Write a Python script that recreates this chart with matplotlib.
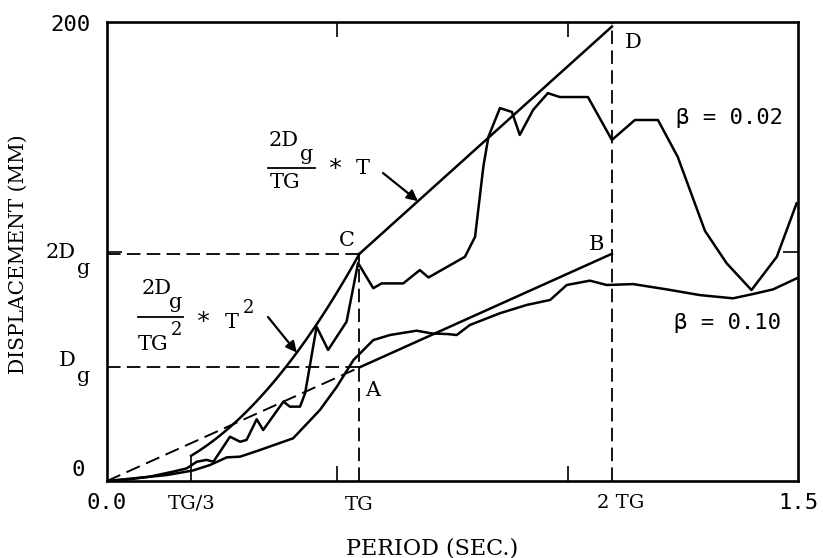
import matplotlib
matplotlib.use("Agg")
import matplotlib.pyplot as plt
import matplotlib.transforms as mtransforms
from matplotlib.lines import Line2D
import numpy as np

# ---- data ----
TG = 0.548
Dg = 49.5

T_b002 = [0.0, 0.05, 0.093, 0.144, 0.173, 0.195, 0.216, 0.231, 0.267, 0.289, 0.303,
          0.325, 0.339, 0.383, 0.397, 0.419, 0.430, 0.455, 0.480, 0.520, 0.545,
          0.578, 0.596, 0.643, 0.679, 0.698, 0.777, 0.799, 0.817, 0.828, 0.853,
          0.879, 0.896, 0.925, 0.957, 0.983, 1.044, 1.096, 1.146, 1.196, 1.239,
          1.298, 1.345, 1.399, 1.454, 1.497]
D_b002 = [0.0, 0.8, 1.9, 4.1, 5.5, 8.4, 9.2, 8.4, 19.3, 17.1, 17.9,
          26.9, 22.2, 34.6, 32.4, 32.4, 38.2, 67.2, 57.1, 69.4, 95.0,
          84.0, 86.1, 86.1, 91.9, 88.7, 97.7, 106.4, 137.0, 150.0, 162.5,
          160.8, 150.8, 161.7, 169.0, 167.3, 167.3, 148.6, 157.3, 157.3, 141.2,
          109.0, 94.9, 83.2, 97.7, 121.0]

T_b010 = [0.0, 0.13, 0.187, 0.224, 0.26, 0.289, 0.332, 0.404, 0.462, 0.499, 0.535,
          0.578, 0.614, 0.672, 0.705, 0.741, 0.759, 0.788, 0.853, 0.911, 0.962,
          0.998, 1.048, 1.085, 1.142, 1.215, 1.287, 1.359, 1.403, 1.446, 1.497]
D_b010 = [0.0, 2.6, 4.6, 7.0, 10.3, 10.6, 13.5, 18.6, 30.9, 41.1, 52.7,
          61.4, 63.6, 65.5, 64.3, 64.0, 63.6, 68.0, 73.1, 76.7, 78.9,
          85.4, 87.3, 85.4, 85.8, 83.5, 81.0, 79.6, 81.5, 83.5, 88.3]

# ---- figure ----
W, H = 823, 558
fig = plt.figure(figsize=(W / 100, H / 100), dpi=100)
L, R, TOP, BOT = 107, 798, 22, 481
ax = fig.add_axes([L / W, 1 - BOT / H, (R - L) / W, (BOT - TOP) / H])
ax.set_xlim(0, 1.5)
ax.set_ylim(0, 200)

MONO = "DejaVu Sans Mono"
SERIF = "DejaVu Serif"
lw = 1.8
dash = (0, (7.5, 3.5))

# model curves
Tp = np.linspace(TG / 3, TG, 60)
ax.plot(Tp, 2 * Dg / TG**2 * Tp**2, color="k", lw=lw)
ax.plot([TG / 3, TG / 3], [0, 2 * Dg / 9], color="k", lw=1.2)
ax.plot([TG, 2 * TG], [2 * Dg, 4 * Dg], color="k", lw=lw)          # C-D
ax.plot([TG, 2 * TG], [Dg, 2 * Dg], color="k", lw=lw)              # A-B
ax.plot([0, TG], [0, Dg], color="k", lw=1.4, linestyle=dash)         # O-A dashed

# reference dashed lines
ax.plot([0, TG], [2 * Dg, 2 * Dg], color="k", lw=1.3, linestyle=dash)
ax.plot([0, TG], [Dg, Dg], color="k", lw=1.3, linestyle=dash)
ax.plot([TG, TG], [0, 2 * Dg], color="k", lw=1.3, linestyle=dash)
ax.plot([2 * TG, 2 * TG], [0, 200], color="k", lw=1.3, linestyle=dash)

# response curves
ax.plot(T_b002, D_b002, color="k", lw=lw)
ax.plot(T_b010, D_b010, color="k", lw=lw)

# axes style
for s in ax.spines.values():
    s.set_linewidth(1.9)
ax.set_xticks([])
ax.set_yticks([])
ax.set_xticks([0.5, 1.0], minor=True)
ax.set_yticks([100], minor=True)
ax.tick_params(which="minor", direction="in", length=11, width=1.2,
               top=True, right=True, labelbottom=False, labelleft=False)

def P(x, y):
    return (x / W, 1 - y / H)

def ftext(x, y, s, **kw):
    fig.text(*P(x, y), s, **kw)

# y labels
ftext(90, 25, "200", ha="right", va="center", family=MONO, fontsize=16)
ftext(76, 252, "2D", ha="right", va="center", family=SERIF, fontsize=15)
ftext(77, 269, "g", ha="left", va="center", family=SERIF, fontsize=15)
ftext(76, 360, "D", ha="right", va="center", family=SERIF, fontsize=15)
ftext(77, 377, "g", ha="left", va="center", family=SERIF, fontsize=15)
ftext(85, 470, "0", ha="right", va="center", family=MONO, fontsize=16)

# x labels
xtr = mtransforms.blended_transform_factory(ax.transData, fig.transFigure)
ty = 1 - 503 / H
fig.text(0.0, ty, "0.0", transform=xtr, ha="center", va="center", family=MONO, fontsize=16)
fig.text(TG / 3, ty, "TG/3", transform=xtr, ha="center", va="center", family=SERIF, fontsize=14)
fig.text(TG, ty - 0.004, "TG", transform=xtr, ha="center", va="center", family=SERIF, fontsize=14)
fig.text(2 * TG + 0.02, ty, "2 TG", transform=xtr, ha="center", va="center", family=SERIF, fontsize=14)
fig.text(1.5, ty, "1.5", transform=xtr, ha="center", va="center", family=MONO, fontsize=16)

ftext(432, 548, "PERIOD (SEC.)", ha="center", va="center", family=SERIF, fontsize=16)
ftext(18, 254, "DISPLACEMENT (MM)", ha="center", va="center", rotation=90,
      family=SERIF, fontsize=14.5)

# point letters
ftext(347, 240, "C", ha="center", va="center", family=SERIF, fontsize=15)
ftext(633, 43, "D", ha="center", va="center", family=SERIF, fontsize=15)
ftext(597, 245, "B", ha="center", va="center", family=SERIF, fontsize=15)
ftext(373, 390, "A", ha="center", va="center", family=SERIF, fontsize=15)

ftext(730, 118, "\u03b2 = 0.02", ha="center", va="center", family=MONO, fontsize=16)
ftext(728, 323, "\u03b2 = 0.10", ha="center", va="center", family=MONO, fontsize=16)

# formula 1: 2Dg/TG * T
ftext(284, 141, "2D", ha="center", va="center", family=SERIF, fontsize=15)
ftext(307, 155, "g", ha="center", va="center", family=SERIF, fontsize=15)
fig.add_artist(Line2D([268 / W, 315 / W], [1 - 168 / H, 1 - 168 / H], color="k", lw=1.3))
ftext(285, 183, "TG", ha="center", va="center", family=SERIF, fontsize=15)
ftext(335, 169, "*", ha="center", va="center", family=MONO, fontsize=18)
ftext(363, 168, "T", ha="center", va="center", family=SERIF, fontsize=15)
Ta = 0.675
ax.annotate("", xy=(Ta, 2 * Dg / TG * Ta), xycoords="data",
            xytext=P(383, 173), textcoords="figure fraction",
            arrowprops=dict(arrowstyle="-|>", lw=1.6, color="k", mutation_scale=16,
                            shrinkA=0, shrinkB=0))

# formula 2: 2Dg/TG^2 * T^2
ftext(157, 288, "2D", ha="center", va="center", family=SERIF, fontsize=15)
ftext(176, 303, "g", ha="center", va="center", family=SERIF, fontsize=15)
fig.add_artist(Line2D([138 / W, 183 / W], [1 - 317 / H, 1 - 317 / H], color="k", lw=1.3))
ftext(153, 344, "TG", ha="center", va="center", family=SERIF, fontsize=15)
ftext(177, 330, "2", ha="center", va="center", family=SERIF, fontsize=13)
ftext(203, 322, "*", ha="center", va="center", family=MONO, fontsize=18)
ftext(232, 322, "T", ha="center", va="center", family=SERIF, fontsize=15)
ftext(249, 308, "2", ha="center", va="center", family=SERIF, fontsize=13)
Tb = 0.412
ax.annotate("", xy=(Tb, 2 * Dg / TG**2 * Tb**2), xycoords="data",
            xytext=P(268, 317), textcoords="figure fraction",
            arrowprops=dict(arrowstyle="-|>", lw=1.6, color="k", mutation_scale=16,
                            shrinkA=0, shrinkB=0))

fig.savefig("out.png", dpi=100)
